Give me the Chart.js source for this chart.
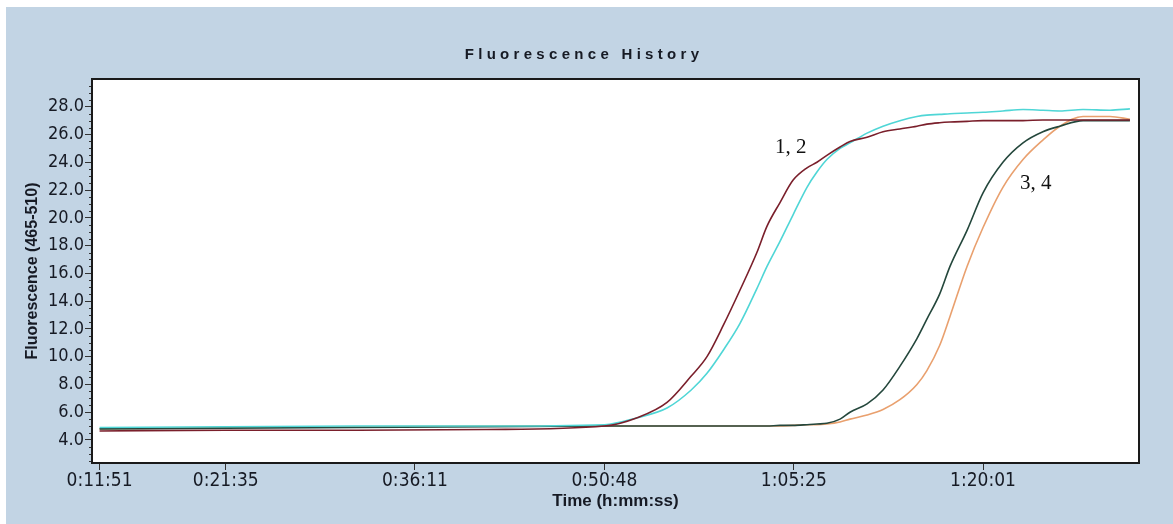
<!DOCTYPE html>
<html>
<head>
<meta charset="utf-8">
<script src="https://cdn.jsdelivr.net/npm/chart.js@4.4.1/dist/chart.umd.min.js"></script>
<style>
  html, body { margin: 0; padding: 0; background: #ffffff; }
  #wrap { position: absolute; left: 6px; top: 7px; width: 1167px; height: 517px; background: #c2d4e4; }
</style>
</head>
<body>
<div id="wrap"><canvas id="fluorChart"></canvas></div>
<script>
// sample times, seconds since start of run
const times = [711, 1295, 1900, 2500, 3048, 3200, 3338, 3450, 3523, 3600, 3676, 3754, 3801, 3861, 3921, 3986,
  4032, 4078, 4139, 4185, 4264, 4338, 4416, 4495, 4541, 4600, 4648, 4727, 4801, 4893, 4986, 5078, 5157, 5264, 5389, 5481];

// fluorescence (465-510) per sample
const sample1 = [4.65, 4.7, 4.7, 4.75, 5.0, 5.6, 6.7, 8.6, 10.0, 12.3, 14.8, 17.5, 19.4, 21.1, 22.7, 23.6,
  24.0, 24.5, 25.1, 25.5, 25.8, 26.2, 26.4, 26.6, 26.75, 26.85, 26.9, 26.95, 27.0, 27.0, 27.0, 27.05, 27.05, 27.05, 27.05, 27.05];
const sample2 = [4.9, 4.95, 5.0, 5.0, 5.1, 5.6, 6.3, 7.6, 8.8, 10.5, 12.4, 14.9, 16.5, 18.3, 20.2, 22.2,
  23.3, 24.2, 25.0, 25.4, 26.1, 26.6, 27.0, 27.3, 27.4, 27.45, 27.5, 27.55, 27.6, 27.7, 27.8, 27.75, 27.7, 27.8, 27.75, 27.85];
const sample3 = [4.8, 4.85, 4.9, 4.95, 5.0, 5.0, 5.0, 5.0, 5.0, 5.0, 5.0, 5.0, 5.0, 5.05, 5.05, 5.1,
  5.15, 5.2, 5.5, 6.0, 6.6, 7.6, 9.3, 11.3, 12.7, 14.5, 16.5, 19.1, 21.8, 24.0, 25.4, 26.2, 26.6, 27.0, 27.0, 27.0];
const sample4 = [4.8, 4.9, 4.95, 5.0, 5.0, 5.0, 5.0, 5.0, 5.0, 5.0, 5.0, 5.0, 5.0, 5.0, 5.05, 5.1,
  5.1, 5.15, 5.3, 5.5, 5.8, 6.2, 6.9, 8.0, 9.0, 10.8, 12.9, 16.5, 19.3, 22.2, 24.2, 25.6, 26.6, 27.3, 27.3, 27.1];

// axis ticks
const xTickSeconds = [711, 1295, 2171, 3048, 3925, 4801];
const yTickValues = [4, 6, 8, 10, 12, 14, 16, 18, 20, 22, 24, 26, 28];

// curve group labels (text, time, value)
const groupLabels = [["1, 2", 3838, 25.1], ["3, 4", 4972, 22.5]];

const textColor = "#161a24";
const narrowFont = "'Liberation Sans Narrow', 'Arial Narrow', 'DejaVu Sans Condensed', sans-serif";

function hms(sec) {
  const h = Math.floor(sec / 3600);
  const m = Math.floor((sec % 3600) / 60);
  const s = Math.round(sec % 60);
  return h + ":" + String(m).padStart(2, "0") + ":" + String(s).padStart(2, "0");
}

function toPoints(values) {
  return times.map((t, i) => ({ x: t, y: values[i] }));
}

// white plot background, frame, minor ticks, title and curve labels
const decorPlugin = {
  id: "decor",
  beforeDraw(chart) {
    const { ctx, chartArea: a } = chart;
    ctx.save();
    ctx.fillStyle = "#ffffff";
    ctx.fillRect(a.left, a.top, a.right - a.left, a.bottom - a.top);
    ctx.restore();
  },
  afterDraw(chart) {
    const { ctx, chartArea: a, scales } = chart;
    ctx.save();
    // minor ticks on the y axis
    ctx.strokeStyle = "#333";
    ctx.lineWidth = 1;
    for (let v = 2.5; v <= 30; v += 0.5) {
      if (v % 2 === 0) continue;
      const y = Math.round(scales.y.getPixelForValue(v)) + 0.5;
      ctx.beginPath();
      ctx.moveTo(a.left - 3, y);
      ctx.lineTo(a.left, y);
      ctx.stroke();
    }
    // plot frame
    ctx.strokeStyle = "#1a1a1a";
    ctx.lineWidth = 2;
    ctx.strokeRect(a.left, a.top, a.right - a.left, a.bottom - a.top);

    // title
    ctx.fillStyle = textColor;
    ctx.font = "bold 15px 'Liberation Sans', Arial, sans-serif";
    ctx.letterSpacing = "4.3px";
    ctx.textAlign = "center";
    ctx.textBaseline = "middle";
    ctx.fillText("Fluorescence History", 578, 48);
    ctx.letterSpacing = "0px";

    // group labels
    ctx.font = "21px 'Liberation Serif', 'Times New Roman', serif";
    ctx.fillStyle = "#111";
    ctx.textAlign = "left";
    groupLabels.forEach(([text, t, v]) => {
      ctx.fillText(text, scales.x.getPixelForValue(t), scales.y.getPixelForValue(v));
    });
    ctx.restore();
  }
};

function renderChart() {
  const ctx = document.getElementById("fluorChart").getContext("2d");

  new Chart(ctx, {
    type: "line",
    data: {
      datasets: [
        { label: "1", data: toPoints(sample1), borderColor: "#7a1f2b" },
        { label: "2", data: toPoints(sample2), borderColor: "#4fd6d6" },
        { label: "3", data: toPoints(sample3), borderColor: "#24473c" },
        { label: "4", data: toPoints(sample4), borderColor: "#e9a06e" },
      ],
    },
    options: {
      responsive: true,
      maintainAspectRatio: false,
      animation: false,
      layout: { padding: { left: 0, right: 34, top: 72, bottom: 0 } },
      elements: {
        point: { radius: 0 },
        line: { borderWidth: 1.6, cubicInterpolationMode: "monotone", fill: false },
      },
      plugins: {
        legend: { display: false },
        tooltip: { enabled: false },
      },
      scales: {
        x: {
          type: "linear",
          min: 676,
          max: 5523,
          afterBuildTicks: (s) => { s.ticks = xTickSeconds.map((v) => ({ value: v })); },
          afterFit: (s) => { s.height = 61; },
          grid: { drawOnChartArea: false, tickLength: 7, color: "#333" },
          border: { display: false },
          ticks: {
            autoSkip: false,
            maxRotation: 0,
            padding: 0,
            color: textColor,
            font: { family: narrowFont, size: 19 },
            callback: (v) => hms(v),
          },
          title: {
            display: true,
            text: "Time (h:mm:ss)",
            color: textColor,
            font: { family: "'Liberation Sans', Arial, sans-serif", size: 17, weight: "bold" },
            padding: { top: 0, bottom: 12 },
          },
        },
        y: {
          min: 2.34,
          max: 30,
          afterBuildTicks: (s) => { s.ticks = yTickValues.map((v) => ({ value: v })); },
          afterFit: (s) => { s.width = 86; },
          grid: { drawOnChartArea: false, tickLength: 7, color: "#333" },
          border: { display: false },
          ticks: {
            padding: 1,
            color: textColor,
            font: { family: narrowFont, size: 18 },
            callback: (v) => v.toFixed(1),
          },
          title: {
            display: true,
            text: "Fluorescence (465-510)",
            color: textColor,
            font: { family: "'Liberation Sans', Arial, sans-serif", size: 16, weight: "bold" },
            padding: { top: 17, bottom: 0 },
          },
        },
      },
    },
    plugins: [decorPlugin],
  });
}

document.addEventListener("DOMContentLoaded", renderChart);
</script>
</body>
</html>
